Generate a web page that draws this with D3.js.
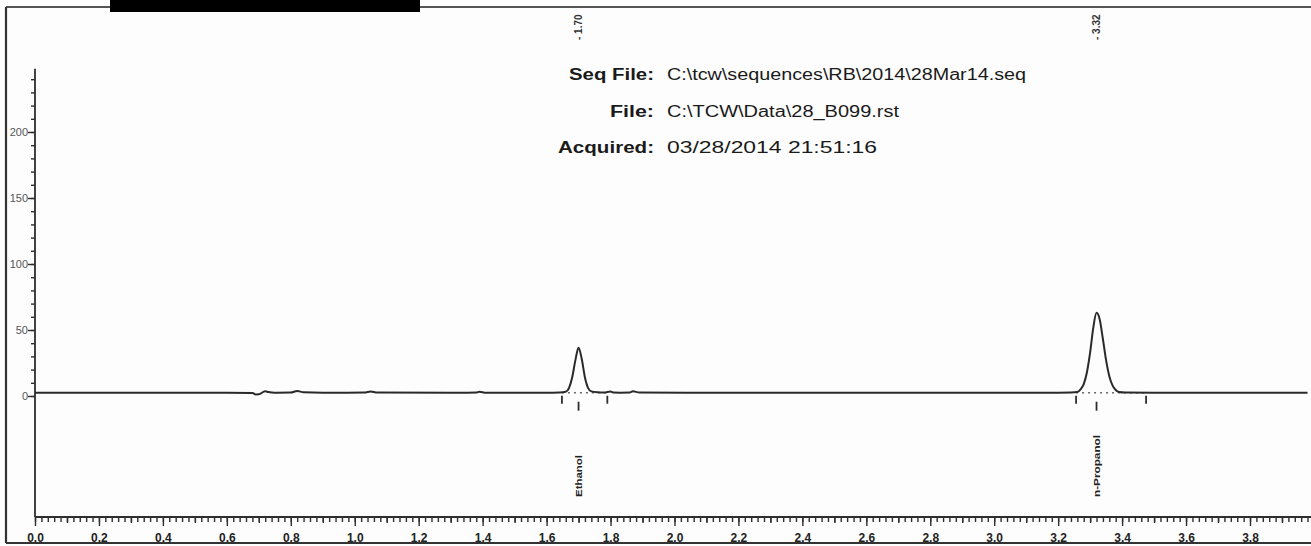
<!DOCTYPE html>
<html><head><meta charset="utf-8">
<script src="https://cdn.jsdelivr.net/npm/d3@7"></script>
<style>html,body{margin:0;padding:0;background:#fff;}svg{display:block;font-family:"Liberation Sans",Arial,sans-serif;}</style>
</head><body>
<svg id="c" width="1311" height="546"></svg>
<script>
// ---- data ----
const traceTime  = [0.00,0.60,0.68,0.69,0.70,0.72,0.73,0.75,0.80,0.82,0.84,0.90,1.03,1.05,1.07,1.30,1.38,1.39,1.41,1.60,1.64,1.66,1.67,1.68,1.69,1.70,1.71,1.72,1.73,1.74,1.76,1.78,1.80,1.81,1.83,1.86,1.87,1.89,2.20,2.80,3.20,3.24,3.26,3.27,3.28,3.29,3.30,3.31,3.32,3.33,3.34,3.35,3.36,3.37,3.38,3.39,3.41,3.50,3.98];
const traceValue = [2.5, 2.5, 2.3, 1.2, 1.3, 3.6, 3.0, 2.5, 2.6, 3.8, 2.8, 2.5, 2.6, 3.5, 2.6, 2.5, 2.6, 3.3, 2.5, 2.5, 2.7, 3.2, 6.0, 14, 27, 36.5, 28, 14, 6.0, 3.5, 2.8, 2.6, 3.4, 2.6, 2.5, 2.6, 3.6, 2.6, 2.5, 2.5, 2.5, 2.6, 3.0, 5.0, 9.0, 18, 33, 52, 63, 58, 43, 27, 15, 8.0, 4.5, 3.0, 2.6, 2.5, 2.5];
const peakNames  = ["Ethanol", "n-Propanol"];
const peakTimes  = [1.70, 3.32];
const peakLabels = ["1.70", "3.32"];
const peakStarts = [1.648, 3.256];
const peakEnds   = [1.790, 3.475];
const peakBase   = [2.5, 2.5];
const xTickLabels = ["0.0","0.2","0.4","0.6","0.8","1.0","1.2","1.4","1.6","1.8","2.0","2.2","2.4","2.6","2.8","3.0","3.2","3.4","3.6","3.8"];
const yTickLabels = [0, 50, 100, 150, 200];
const infoKeys   = ["Seq File:", "File:", "Acquired:"];
const infoValues = ["C:\\tcw\\sequences\\RB\\2014\\28Mar14.seq", "C:\\TCW\\Data\\28_B099.rst", "03/28/2014 21:51:16"];

// ---- drawing ----
const svg = d3.select("#c");
const ink = "#2e2e2e";
const x = d3.scaleLinear().domain([0, 3.8]).range([35, 1250]);
const y = d3.scaleLinear().domain([0, 200]).range([396, 132]);
const axisY0 = 517;

// outer frame
svg.append("rect").attr("x",0).attr("y",0).attr("width",1311).attr("height",546).attr("fill","#fdfdfd");
svg.append("line").attr("x1",6).attr("x2",1311).attr("y1",7).attr("y2",7).attr("stroke","#555").attr("stroke-width",2);
svg.append("line").attr("x1",6).attr("x2",6).attr("y1",7).attr("y2",543).attr("stroke","#333").attr("stroke-width",2.2);
svg.append("line").attr("x1",6).attr("x2",1311).attr("y1",543).attr("y2",543).attr("stroke","#333").attr("stroke-width",2.2);
svg.append("rect").attr("x",110).attr("y",0).attr("width",310).attr("height",12).attr("fill","#000");

// x axis
const xMinor = d3.range(0, 3.99, 0.02);
const xMid = d3.range(0.1, 3.99, 0.2);
const xMajor = xTickLabels.map(Number);
function xAxis(vals, size, labels){
  const g = svg.append("g").attr("transform",`translate(0,${axisY0})`)
    .call(d3.axisBottom(x).tickValues(vals).tickSize(size).tickPadding(7)
      .tickFormat(labels ? (d,i)=>labels[i] : ""));
  g.select(".domain").remove();
  g.selectAll("line").attr("stroke",ink).attr("stroke-width",1.4);
  g.selectAll("text").attr("fill","#222").attr("font-size",12).attr("font-weight","bold").attr("font-family","'Liberation Sans',Arial,sans-serif");
  return g;
}
xAxis(xMinor, 5);
xAxis(xMid, 6);
xAxis(xMajor, 9, xTickLabels);
svg.append("line").attr("x1",35).attr("x2",1311).attr("y1",axisY0).attr("y2",axisY0).attr("stroke",ink).attr("stroke-width",1.8);

// y axis
const yMinor = d3.range(0, 241, 10);
const gy1 = svg.append("g").attr("transform","translate(35,0)")
  .call(d3.axisLeft(y).tickValues(yMinor).tickSize(4).tickFormat(""));
gy1.select(".domain").remove();
gy1.selectAll("line").attr("stroke",ink).attr("stroke-width",1.4);
const gy2 = svg.append("g").attr("transform","translate(35,0)")
  .call(d3.axisLeft(y).tickValues(yTickLabels).tickSize(7).tickPadding(0));
gy2.select(".domain").remove();
gy2.selectAll("line").attr("stroke",ink).attr("stroke-width",1.4);
gy2.selectAll("text").attr("fill","#555").attr("font-size",11).attr("font-family","'Liberation Sans',Arial,sans-serif");
svg.append("line").attr("x1",35).attr("x2",35).attr("y1",y(248)).attr("y2",axisY0).attr("stroke",ink).attr("stroke-width",1.8);

// peak baselines, markers
peakTimes.forEach((t,i)=>{
  svg.append("line").attr("x1",x(peakStarts[i])).attr("x2",x(peakEnds[i]))
    .attr("y1",y(peakBase[i])).attr("y2",y(peakBase[i]))
    .attr("stroke","#666").attr("stroke-width",1.4).attr("stroke-dasharray","2,4");
  [peakStarts[i], peakEnds[i]].forEach(v=>{
    svg.append("line").attr("x1",x(v)).attr("x2",x(v)).attr("y1",y(peakBase[i])+3).attr("y2",y(peakBase[i])+11)
      .attr("stroke",ink).attr("stroke-width",1.8);
  });
  svg.append("line").attr("x1",x(t)).attr("x2",x(t)).attr("y1",y(peakBase[i])+9).attr("y2",y(peakBase[i])+18)
    .attr("stroke",ink).attr("stroke-width",1.8);
  // retention time at top
  svg.append("text").attr("transform",`translate(${x(t)+3},40) rotate(-90)`)
    .attr("font-size",10).attr("font-weight","bold").attr("fill","#333").text("- " + peakLabels[i]);
  // peak name
  svg.append("text").attr("transform",`translate(${x(t)+3},497) rotate(-90)`)
    .attr("font-size",9).attr("font-weight","bold").attr("fill","#222")
    .attr("textLength", i===0 ? 42 : 62).attr("lengthAdjust","spacingAndGlyphs").text(peakNames[i]);
});

// trace
const line = d3.line().x((d,i)=>x(traceTime[i])).y((d,i)=>y(traceValue[i])).curve(d3.curveMonotoneX);
svg.append("path").datum(traceTime).attr("d",line).attr("fill","none").attr("stroke","#2a2a2a").attr("stroke-width",2);

// header info
const rowsY = [80, 117, 153];
const keyLens = [85, 44, 96];
const valLens = [359, 232, 210];
infoKeys.forEach((k,i)=>{
  svg.append("text").attr("x",654).attr("y",rowsY[i]).attr("text-anchor","end")
    .attr("font-size",16).attr("font-weight","bold").attr("fill","#1a1a1a")
    .attr("textLength",keyLens[i]).attr("lengthAdjust","spacingAndGlyphs").text(k);
  svg.append("text").attr("x",667).attr("y",rowsY[i])
    .attr("font-size",16).attr("fill","#1a1a1a")
    .attr("textLength",valLens[i]).attr("lengthAdjust","spacingAndGlyphs").text(infoValues[i]);
});
</script>
</body></html>
